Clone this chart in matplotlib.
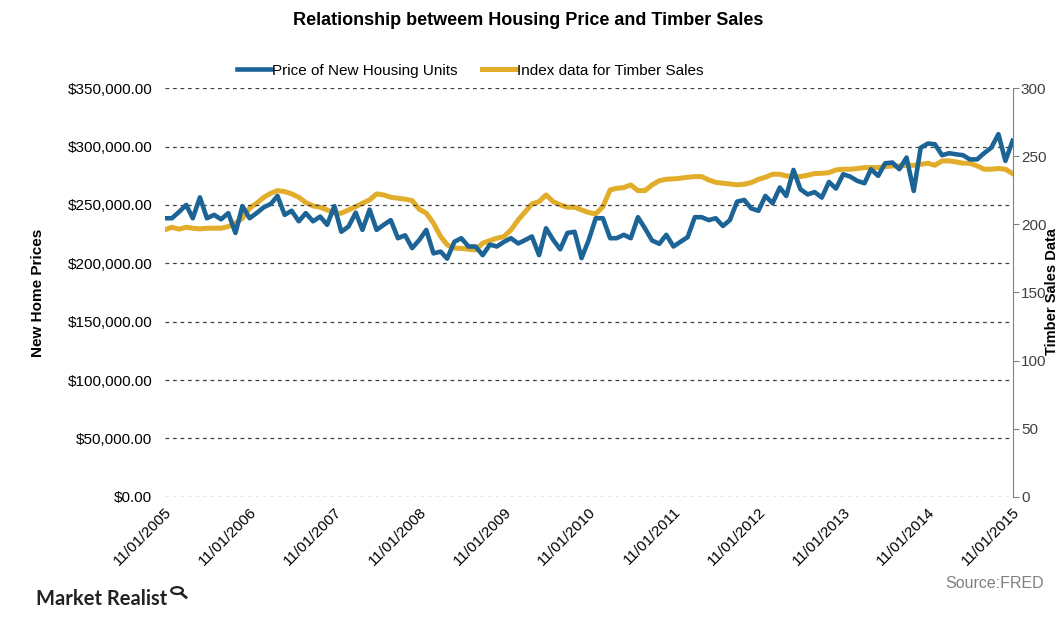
#! /usr/bin/python3
"""Housing price vs timber sales index, monthly 11/2005 - 11/2015."""

import matplotlib
matplotlib.use("Agg")
import matplotlib.pyplot as plt
import matplotlib.dates as mdates
from matplotlib.patches import Circle
from matplotlib.lines import Line2D
import pandas

plt.rcParams["font.family"] = ["Liberation Sans", "DejaVu Sans"]

months = pandas.date_range("2005-11-01", "2015-11-01", freq="MS")

# Price of new housing units (dollars, thousands)
price_k = [
    238.6, 238.6, 244.0, 250.0, 238.6, 256.5, 238.6, 241.5, 237.7, 243.0,
    226.0, 249.0, 238.6, 243.0, 248.0, 251.0, 257.7, 241.5, 245.0, 236.0,
    243.0, 236.0, 240.0, 233.0, 249.0, 227.0, 231.5, 243.4, 228.6, 246.0,
    228.6, 233.0, 237.0, 221.5, 224.0, 213.0, 220.0, 228.6, 208.5, 210.0,
    204.0, 218.4, 221.5, 214.4, 214.4, 207.0, 216.0, 214.4, 218.4, 221.5,
    217.0, 220.0, 223.0, 207.0, 230.0, 220.0, 212.0, 226.0, 227.0, 204.4,
    220.0, 238.6, 238.6, 221.5, 221.5, 224.4, 221.5, 239.5, 230.0, 219.5,
    216.7, 224.4, 214.4, 218.4, 222.4, 239.5, 239.5, 237.0, 238.6, 232.0,
    237.0, 252.8, 254.3, 247.0, 245.0, 257.7, 251.4, 264.9, 257.7, 280.0,
    263.4, 259.0, 261.0, 256.3, 269.7, 264.0, 276.3, 274.3, 270.6, 268.6,
    280.6, 274.9, 285.7, 286.3, 280.6, 290.6, 262.0, 299.0, 302.6, 302.0,
    292.6, 294.3, 293.4, 292.6, 289.0, 289.0, 294.3, 299.0, 310.6, 287.7,
    304.9,
]

# Index data for timber sales
timber = [
    196.0, 197.9, 196.5, 197.9, 197.2, 196.7, 197.2, 197.2, 197.2, 198.4,
    200.9, 204.5, 211.9, 215.5, 219.9, 222.9, 224.8, 224.1, 222.4, 219.9,
    216.0, 213.6, 212.6, 210.6, 208.2, 208.2, 210.6, 213.0, 215.5, 218.0,
    222.4, 221.6, 219.9, 219.2, 218.5, 217.5, 211.1, 208.2, 200.9, 191.1,
    185.0, 182.6, 182.4, 181.8, 181.3, 186.2, 188.1, 189.8, 191.1, 196.0,
    203.3, 209.4, 215.0, 216.7, 221.6, 216.7, 214.3, 212.6, 212.6, 210.6,
    208.7, 207.7, 213.0, 225.3, 226.5, 227.0, 229.0, 224.8, 224.8, 229.0,
    232.1, 233.1, 233.4, 233.9, 234.6, 235.1, 235.1, 232.6, 230.9, 230.2,
    229.7, 229.0, 229.5, 230.7, 233.1, 234.6, 236.8, 236.8, 235.6, 235.1,
    235.1, 236.1, 237.3, 237.5, 238.0, 240.0, 240.5, 240.5, 241.0, 241.7,
    241.7, 241.7, 242.4, 242.9, 242.9, 243.4, 243.4, 244.1, 244.9, 243.4,
    246.6, 246.6, 245.9, 244.9, 244.9, 242.9, 240.5, 240.5, 241.0, 240.5,
    237.3,
]

blue = "#1c6396"
gold = "#e2ad2a"

fig = plt.figure(figsize=(10.57, 6.21), dpi=100)
ax = fig.add_axes([0.156, 0.2, 0.802, 0.658])
ax2 = ax.twinx()

ln1, = ax.plot(months, [p * 1000 for p in price_k], color=blue, lw=3.3,
               label="Price of New Housing Units", zorder=3)
ln2, = ax2.plot(months, timber, color=gold, lw=3.6,
                label="Index data for Timber Sales", zorder=2)

# left axis
ax.set_ylim(0, 350000)
ax.set_yticks(range(0, 350001, 50000))
ax.set_yticklabels(["${:,.2f}".format(v) for v in range(0, 350001, 50000)],
                   fontsize=11)
ax.yaxis.grid(True, color="#404040", ls=(0, (3, 3)), lw=0.9)
ax.set_axisbelow(True)
ax.tick_params(axis="y", length=0, pad=9)
ax.set_ylabel("New Home Prices", fontsize=11, fontweight="bold", labelpad=16)

# x axis
ax.set_xlim(months[0], months[-1])
ticks = [d for d in months if d.month == 11]
ax.set_xticks(ticks)
ax.xaxis.set_major_formatter(mdates.DateFormatter("%m/%d/%Y"))
ax.tick_params(axis="x", length=0, pad=6, labelsize=11)
for lab in ax.get_xticklabels():
    lab.set_rotation(45)
    lab.set_ha("right")
    lab.set_rotation_mode("anchor")

# right axis
ax2.set_ylim(0, 300)
ax2.set_yticks(range(0, 301, 50))
ax2.tick_params(axis="y", labelsize=11, length=4, color="#808080",
                labelcolor="#404040", pad=2)

for a in (ax, ax2):
    for side in ("top", "left", "bottom"):
        a.spines[side].set_visible(False)
ax.spines["right"].set_visible(False)
ax2.spines["right"].set_color("#808080")

ax.set_zorder(ax2.get_zorder() + 1)
ax.patch.set_visible(False)

fig.text(0.9948, 0.53, "Timber Sales Data", rotation=90, ha="center",
         va="center", fontsize=10.5, fontweight="bold")

fig.legend([ln1, ln2], [ln1.get_label(), ln2.get_label()],
           loc="center", bbox_to_anchor=(0.445, 0.886), ncol=2,
           frameon=False, fontsize=11, handlelength=2.2,
           handletextpad=0.1, columnspacing=1.6)

fig.text(0.5, 0.967, "Relationship betweem Housing Price and Timber Sales",
         ha="center", va="center", fontsize=13, fontweight="bold")
fig.text(0.988, 0.06, "Source:FRED", ha="right", va="center",
         fontsize=11.5, color="#808080")
fig.text(0.034, 0.036, "Market Realist", ha="left", va="center",
         fontsize=14.5, color="#222222", fontweight="bold",
         family=["Lato", "DejaVu Sans"])

# small magnifier logo after the brand name
fig.patches.append(Circle((0.1675, 0.049), 0.0055, transform=fig.transFigure,
                          fill=False, lw=1.6, color="#222222"))
fig.lines.append(Line2D([0.1715, 0.176], [0.0445, 0.038],
                        transform=fig.transFigure, lw=2, color="#222222"))

fig.savefig("out.png", dpi=100)
